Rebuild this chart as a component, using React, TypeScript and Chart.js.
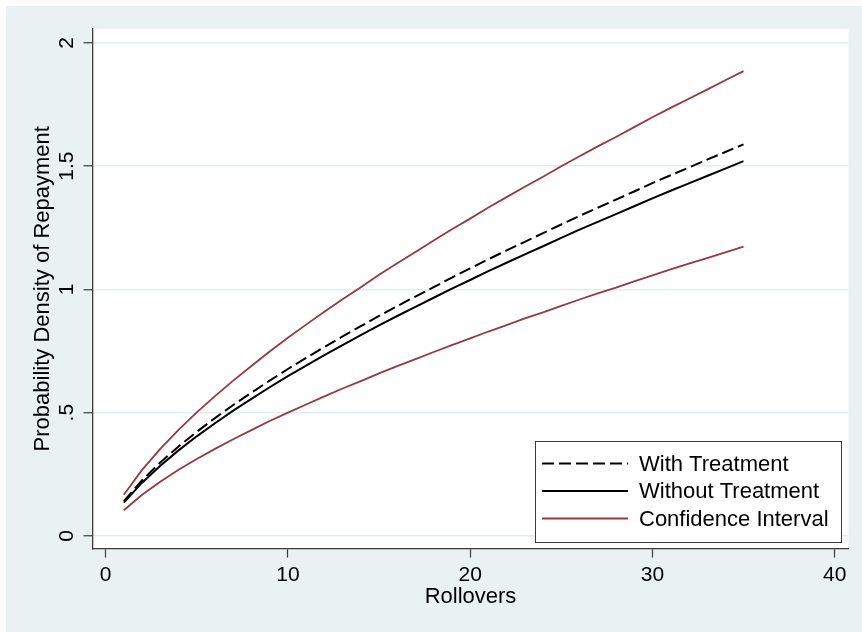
import React, { useEffect, useRef } from 'react';
import { Chart, registerables } from 'chart.js';

Chart.register(...registerables);

// ---- data ----
const rollovers = [1, 2, 3, 4, 5, 6, 7, 8, 9, 10, 11, 12, 13, 14, 15, 16, 17, 18, 19, 20, 21, 22, 23, 24, 25, 26, 27, 28, 29, 30, 31, 32, 33, 34, 35];
const withTreatment = [0.141, 0.226, 0.298, 0.363, 0.422, 0.478, 0.531, 0.581, 0.63, 0.677, 0.722, 0.766, 0.809, 0.851, 0.892, 0.932, 0.971, 1.009, 1.048, 1.085, 1.122, 1.158, 1.193, 1.228, 1.263, 1.298, 1.331, 1.364, 1.397, 1.431, 1.463, 1.494, 1.526, 1.557, 1.588];
const withoutTreatment = [0.135, 0.216, 0.285, 0.347, 0.404, 0.457, 0.508, 0.556, 0.603, 0.648, 0.691, 0.733, 0.774, 0.814, 0.854, 0.892, 0.929, 0.966, 1.003, 1.038, 1.074, 1.108, 1.142, 1.175, 1.209, 1.242, 1.274, 1.305, 1.337, 1.369, 1.4, 1.43, 1.46, 1.49, 1.52];
const ciUpper = [0.167, 0.268, 0.353, 0.43, 0.501, 0.567, 0.63, 0.689, 0.748, 0.804, 0.857, 0.909, 0.96, 1.009, 1.059, 1.106, 1.152, 1.198, 1.244, 1.287, 1.332, 1.374, 1.416, 1.457, 1.499, 1.54, 1.58, 1.618, 1.658, 1.698, 1.736, 1.773, 1.81, 1.848, 1.885];
const ciLower = [0.104, 0.167, 0.22, 0.268, 0.312, 0.353, 0.392, 0.429, 0.466, 0.5, 0.533, 0.566, 0.598, 0.628, 0.659, 0.689, 0.717, 0.746, 0.774, 0.801, 0.829, 0.855, 0.882, 0.907, 0.933, 0.959, 0.984, 1.007, 1.032, 1.057, 1.081, 1.104, 1.127, 1.15, 1.173];

const xTickValues = [0, 10, 20, 30, 40];
const xTickLabels = ['0', '10', '20', '30', '40'];
const yTickValues = [0, 0.5, 1, 1.5, 2];
const yTickLabels = ['0', '.5', '1', '1.5', '2'];
const xTitle = 'Rollovers';
const yTitle = 'Probability Density of Repayment';
const legendLabels = ['With Treatment', 'Without Treatment', 'Confidence Interval'];

// ---- styles ----
const FONT = "'Liberation Sans', Arial, Helvetica, sans-serif";
const PANEL = '#e9f1f3';
const GRID = '#e3edf0';
const AXIS = '#3a3a3a';
const CI_COLOR = '#943a40';
const DASH = [12, 5];

const backgroundPlugin = {
  id: 'stataBackground',
  beforeDraw(chart: any) {
    const { ctx, width, height, chartArea } = chart;
    ctx.save();
    ctx.fillStyle = '#ffffff';
    ctx.fillRect(0, 0, width, height);
    ctx.fillStyle = PANEL;
    ctx.fillRect(6, 6, width - 6, height - 6);
    ctx.fillStyle = '#ffffff';
    ctx.fillRect(chartArea.left, chartArea.top, chartArea.right - chartArea.left, chartArea.bottom - chartArea.top);
    ctx.restore();
  },
};

const overlayPlugin = {
  id: 'stataOverlay',
  afterDraw(chart: any) {
    const { ctx, chartArea } = chart;
    ctx.save();
    // axis titles
    ctx.fillStyle = '#000';
    ctx.font = `22px ${FONT}`;
    ctx.textAlign = 'center';
    ctx.textBaseline = 'middle';
    ctx.fillText(xTitle, (chartArea.left + chartArea.right) / 2, chartArea.bottom + 48);
    ctx.save();
    ctx.translate(43, (chartArea.top + chartArea.bottom) / 2);
    ctx.rotate(-Math.PI / 2);
    ctx.fillText(yTitle, 0, 0);
    ctx.restore();

    // legend box
    const boxW = 306;
    const boxH = 101;
    const bx = chartArea.right - 7.5 - boxW;
    const by = chartArea.bottom - 6.5 - boxH;
    ctx.fillStyle = '#ffffff';
    ctx.fillRect(bx, by, boxW, boxH);
    ctx.strokeStyle = AXIS;
    ctx.lineWidth = 1;
    ctx.strokeRect(Math.round(bx) + 0.5, Math.round(by) + 0.5, boxW, boxH);
    const rows = [
      { label: legendLabels[0], color: '#000', dash: DASH, width: 2 },
      { label: legendLabels[1], color: '#000', dash: [], width: 2 },
      { label: legendLabels[2], color: CI_COLOR, dash: [], width: 1.8 },
    ];
    ctx.font = `22px ${FONT}`;
    ctx.textAlign = 'left';
    rows.forEach((r, i) => {
      const y = by + 22.5 + i * 27.5;
      ctx.beginPath();
      ctx.setLineDash(r.dash);
      ctx.strokeStyle = r.color;
      ctx.lineWidth = r.width;
      ctx.moveTo(bx + 7, y);
      ctx.lineTo(bx + 93, y);
      ctx.stroke();
      ctx.setLineDash([]);
      ctx.fillStyle = '#000';
      ctx.fillText(r.label, bx + 104, y + 1);
    });
    ctx.restore();
  },
};

export default function App() {
  const canvasRef = useRef<HTMLCanvasElement>(null);

  useEffect(() => {
    const pts = (ys: number[]) => rollovers.map((x, i) => ({ x, y: ys[i] }));
    const chart = new Chart(canvasRef.current as HTMLCanvasElement, {
      type: 'line',
      data: {
        datasets: [
          { label: legendLabels[0], data: pts(withTreatment), borderColor: '#000', borderWidth: 2, borderDash: DASH, pointRadius: 0, fill: false, tension: 0 },
          { label: legendLabels[1], data: pts(withoutTreatment), borderColor: '#000', borderWidth: 2, pointRadius: 0, fill: false, tension: 0 },
          { label: legendLabels[2], data: pts(ciUpper), borderColor: CI_COLOR, borderWidth: 1.8, pointRadius: 0, fill: false, tension: 0 },
          { label: legendLabels[2], data: pts(ciLower), borderColor: CI_COLOR, borderWidth: 1.8, pointRadius: 0, fill: false, tension: 0 },
        ],
      },
      options: {
        animation: false,
        responsive: true,
        maintainAspectRatio: false,
        layout: { padding: { left: 0, top: 29, right: 13.5, bottom: 0 } },
        plugins: {
          legend: { display: false },
          tooltip: { enabled: false },
          title: { display: false },
        },
        scales: {
          x: {
            type: 'linear',
            min: -0.72,
            max: 40.76,
            afterBuildTicks: (s: any) => {
              s.ticks = xTickValues.map((v) => ({ value: v }));
            },
            afterFit: (s: any) => {
              s.height = 83.5;
            },
            grid: { display: true, drawOnChartArea: false, drawTicks: true, tickLength: 9, tickColor: AXIS, tickWidth: 1.2 },
            border: { display: true, color: AXIS, width: 1.3 },
            ticks: {
              autoSkip: false,
              maxRotation: 0,
              minRotation: 0,
              padding: 5,
              color: '#000',
              font: { family: FONT, size: 21 },
              callback: (v: any) => xTickLabels[xTickValues.indexOf(Number(v))] ?? '',
            },
          },
          y: {
            type: 'linear',
            min: -0.051,
            max: 2.056,
            afterBuildTicks: (s: any) => {
              s.ticks = yTickValues.map((v) => ({ value: v }));
            },
            afterFit: (s: any) => {
              s.width = 92.5;
            },
            grid: { display: true, drawOnChartArea: true, color: GRID, lineWidth: 1.5, drawTicks: true, tickLength: 9, tickColor: AXIS, tickWidth: 1.2 },
            border: { display: true, color: AXIS, width: 1.3 },
            ticks: {
              autoSkip: false,
              minRotation: 90,
              maxRotation: 90,
              crossAlign: 'center',
              padding: 2,
              color: '#000',
              font: { family: FONT, size: 21 },
              callback: (v: any) => yTickLabels[yTickValues.indexOf(Number(v))] ?? '',
            },
          },
        },
      },
      plugins: [backgroundPlugin, overlayPlugin],
    } as any);
    return () => chart.destroy();
  }, []);

  return (
    <div style={{ position: 'absolute', left: 0, top: 0, width: 862, height: 632 }}>
      <canvas ref={canvasRef} />
    </div>
  );
}
